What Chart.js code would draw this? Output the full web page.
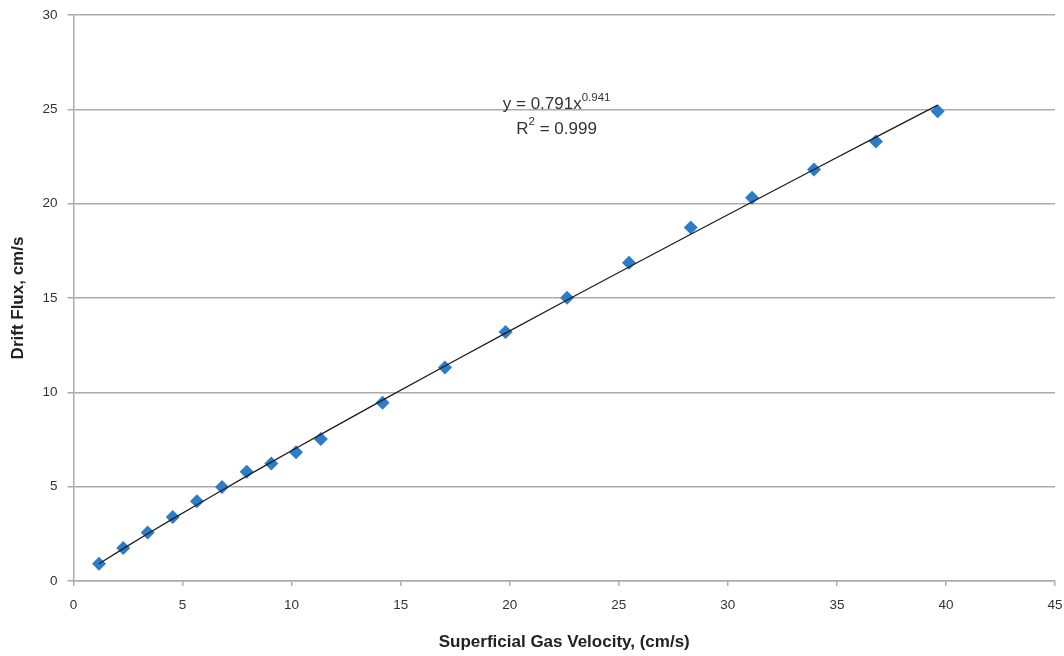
<!DOCTYPE html>
<html>
<head>
<meta charset="utf-8">
<script src="https://cdn.jsdelivr.net/npm/chart.js@4/dist/chart.umd.min.js"></script>
<style>
  html, body { margin: 0; padding: 0; background: #fff; }
  #wrap { width: 1064px; height: 656px; }
</style>
</head>
<body>
<div id="wrap"><canvas id="chart" width="1064" height="656"></canvas></div>
<script>
// measured points
const gasVelocity = [1.17, 2.28, 3.40, 4.55, 5.66, 6.81, 7.94, 9.07, 10.20, 11.34,
                     14.17, 17.03, 19.81, 22.63, 25.47, 28.30, 31.11, 33.95, 36.79, 39.62];
const driftFlux = [0.92, 1.75, 2.57, 3.39, 4.23, 4.98, 5.79, 6.23, 6.83, 7.52,
                   9.45, 11.31, 13.20, 15.01, 16.87, 18.74, 20.31, 21.81, 23.29, 24.90];

const xTicks = [0, 5, 10, 15, 20, 25, 30, 35, 40, 45];
const yTicks = [0, 5, 10, 15, 20, 25, 30];

// power-law fit y = a * x^b
const fitA = 0.791;
const fitB = 0.941;
const fitR2 = '0.999';

const fitLine = gasVelocity.map(x => ({ x, y: fitA * Math.pow(x, fitB) }));
const points = gasVelocity.map((x, i) => ({ x, y: driftFlux[i] }));

const tickFont = { family: 'Liberation Sans', size: 13.5 };
const titleFont = { family: 'Liberation Sans', size: 17, weight: 'bold' };
const GRID = '#ababab';

// equation + R² text next to the trendline
const fitLabel = {
  id: 'fitLabel',
  afterDatasetsDraw(chart) {
    const { ctx, scales } = chart;
    const cx = scales.x.getPixelForValue(22.15);
    const y1 = scales.y.getPixelForValue(25.25);
    const y2 = scales.y.getPixelForValue(23.95);
    const big = '17px "Liberation Sans"';
    const small = '11.5px "Liberation Sans"';
    ctx.save();
    ctx.fillStyle = '#333';
    ctx.textBaseline = 'middle';
    ctx.textAlign = 'left';

    const main = 'y = ' + fitA + 'x';
    const sup = String(fitB);
    ctx.font = big;
    const wMain = ctx.measureText(main).width;
    ctx.font = small;
    const wSup = ctx.measureText(sup).width;
    let x0 = cx - (wMain + wSup) / 2;
    ctx.font = big;
    ctx.fillText(main, x0, y1);
    ctx.font = small;
    ctx.fillText(sup, x0 + wMain, y1 - 7);

    const r1 = 'R';
    const r2 = '2';
    const r3 = ' = ' + fitR2;
    ctx.font = big;
    const wr1 = ctx.measureText(r1).width;
    const wr3 = ctx.measureText(r3).width;
    ctx.font = small;
    const wr2 = ctx.measureText(r2).width;
    x0 = cx - (wr1 + wr2 + wr3) / 2;
    ctx.font = big;
    ctx.fillText(r1, x0, y2);
    ctx.font = small;
    ctx.fillText(r2, x0 + wr1, y2 - 7);
    ctx.font = big;
    ctx.fillText(r3, x0 + wr1 + wr2, y2);
    ctx.restore();
  }
};

new Chart(document.getElementById('chart'), {
  type: 'scatter',
  data: {
    datasets: [
      {
        label: 'Power (fit)',
        type: 'line',
        data: fitLine,
        borderColor: '#1e1e1e',
        borderWidth: 1.3,
        pointRadius: 0,
        fill: false,
        tension: 0,
        order: 0
      },
      {
        label: 'Drift flux',
        data: points,
        pointStyle: 'rectRot',
        pointRadius: 7,
        pointHoverRadius: 7,
        backgroundColor: '#2b7cc9',
        borderColor: '#2b7cc9',
        borderWidth: 0,
        order: 1
      }
    ]
  },
  options: {
    responsive: false,
    animation: false,
    layout: { padding: { top: 15, right: 9, left: 0, bottom: 0 } },
    plugins: {
      legend: { display: false },
      tooltip: { enabled: false }
    },
    scales: {
      x: {
        type: 'linear',
        min: 0,
        max: 45,
        afterBuildTicks: s => { s.ticks = xTicks.map(v => ({ value: v })); },
        afterFit: s => { s.height = 75; s.paddingLeft = 0; s.paddingRight = 0; },
        grid: { color: 'rgba(0,0,0,0)', tickColor: GRID, tickLength: 5, lineWidth: 1.5 },
        border: { color: GRID, width: 1.5 },
        ticks: { color: '#333', font: tickFont, padding: 11, maxRotation: 0 },
        title: {
          display: true,
          text: 'Superficial Gas Velocity, (cm/s)',
          color: '#222',
          font: titleFont,
          padding: { top: 0, bottom: 3 }
        }
      },
      y: {
        type: 'linear',
        min: 0,
        max: 30,
        afterBuildTicks: s => { s.ticks = yTicks.map(v => ({ value: v })); },
        afterFit: s => { s.width = 73.5; s.paddingTop = 0; s.paddingBottom = 0; },
        grid: { color: GRID, tickColor: GRID, tickLength: 6, lineWidth: 1.5 },
        border: { color: GRID, width: 1.5 },
        ticks: { color: '#333', font: tickFont, padding: 10 },
        title: {
          display: true,
          text: 'Drift Flux, cm/s',
          color: '#222',
          font: titleFont,
          padding: { top: 8, bottom: 0 }
        }
      }
    }
  },
  plugins: [fitLabel]
});
</script>
</body>
</html>
